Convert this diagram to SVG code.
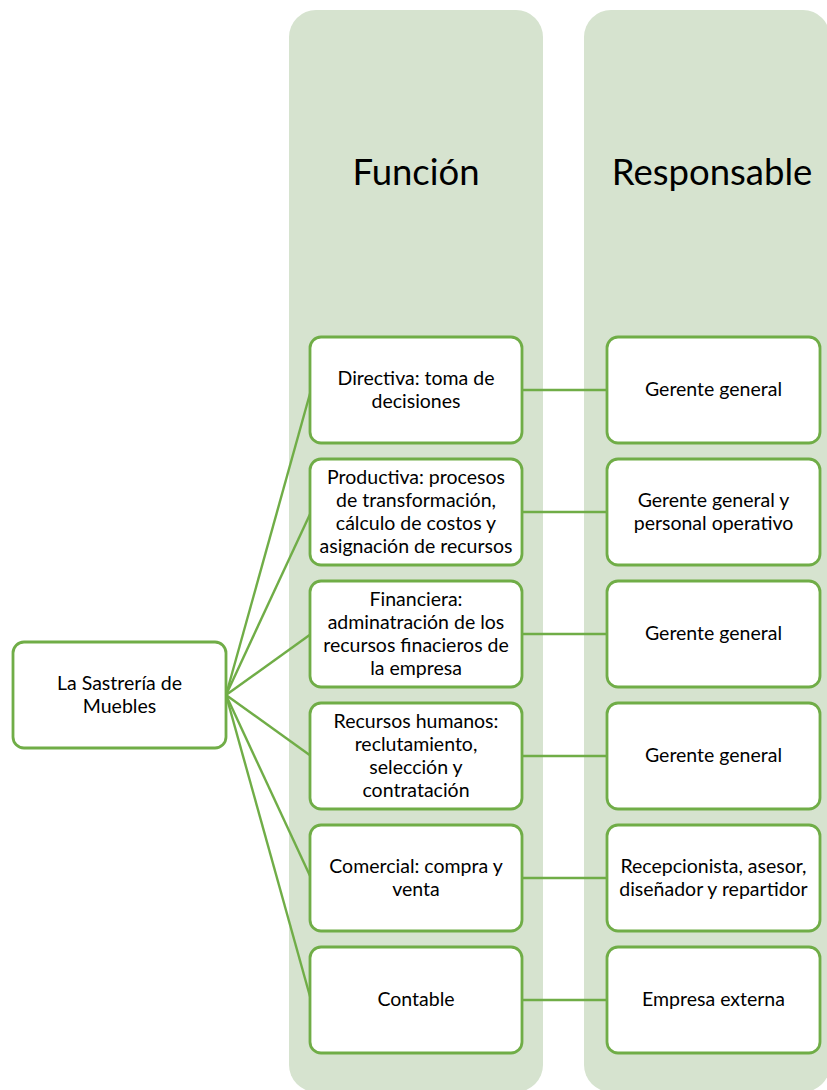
<svg xmlns="http://www.w3.org/2000/svg" width="827" height="1090" viewBox="0 0 827 1090">
  <style>
    .lane { fill: #d6e3cf; }
    .box { fill: #ffffff; stroke: #70ad47; stroke-width: 2.8; }
    .link { stroke: #70ad47; stroke-width: 2.4; fill: none; }
    .t { font-family: Lato, "Open Sans", "Liberation Sans", sans-serif; font-size: 19.5px; fill: #000000; text-anchor: middle; }
    .head { font-family: Lato, "Open Sans", "Liberation Sans", sans-serif; font-size: 36.5px; fill: #000000; text-anchor: middle; }
  </style>

  <!-- column backgrounds -->
  <g id="lanes">
    <rect class="lane" x="289" y="10" width="254" height="1082" rx="27"/>
    <rect class="lane" x="584" y="10" width="246" height="1082" rx="27"/>
    <text class="head" x="416" y="185">Función</text>
    <text class="head" x="712" y="185">Responsable</text>
  </g>

  <!-- connectors -->
  <g id="connectors">
    <line class="link" x1="226" y1="695" x2="311" y2="390"/>
    <line class="link" x1="226" y1="695" x2="311" y2="512"/>
    <line class="link" x1="226" y1="695" x2="311" y2="634"/>
    <line class="link" x1="226" y1="695" x2="311" y2="756"/>
    <line class="link" x1="226" y1="695" x2="311" y2="878"/>
    <line class="link" x1="226" y1="695" x2="311" y2="1000"/>
    <line class="link" x1="522" y1="390" x2="607" y2="390"/>
    <line class="link" x1="522" y1="512" x2="607" y2="512"/>
    <line class="link" x1="522" y1="634" x2="607" y2="634"/>
    <line class="link" x1="522" y1="756" x2="607" y2="756"/>
    <line class="link" x1="522" y1="878" x2="607" y2="878"/>
    <line class="link" x1="522" y1="1000" x2="607" y2="1000"/>
  </g>

  <!-- root -->
  <g id="root">
    <rect class="box" x="13" y="642" width="213" height="106" rx="11"/>
    <text class="t" x="119.5" y="689.5">La Sastrería de</text>
    <text class="t" x="119.5" y="712.5">Muebles</text>
  </g>

  <!-- functions -->
  <g id="f-directiva">
    <rect class="box" x="310" y="337" width="212" height="106" rx="11"/>
    <text class="t" x="416" y="384.5">Directiva: toma de</text>
    <text class="t" x="416" y="407.5">decisiones</text>
  </g>
  <g id="f-productiva">
    <rect class="box" x="310" y="459" width="212" height="106" rx="11"/>
    <text class="t" x="416" y="483.5">Productiva: procesos</text>
    <text class="t" x="416" y="506.5">de transformación,</text>
    <text class="t" x="416" y="529.5">cálculo de costos y</text>
    <text class="t" x="416" y="552.5">asignación de recursos</text>
  </g>
  <g id="f-financiera">
    <rect class="box" x="310" y="581" width="212" height="106" rx="11"/>
    <text class="t" x="416" y="605.5">Financiera:</text>
    <text class="t" x="416" y="628.5">adminatración de los</text>
    <text class="t" x="416" y="651.5">recursos finacieros de</text>
    <text class="t" x="416" y="674.5">la empresa</text>
  </g>
  <g id="f-rrhh">
    <rect class="box" x="310" y="703" width="212" height="106" rx="11"/>
    <text class="t" x="416" y="727.5">Recursos humanos:</text>
    <text class="t" x="416" y="750.5">reclutamiento,</text>
    <text class="t" x="416" y="773.5">selección y</text>
    <text class="t" x="416" y="796.5">contratación</text>
  </g>
  <g id="f-comercial">
    <rect class="box" x="310" y="825" width="212" height="106" rx="11"/>
    <text class="t" x="416" y="872.5">Comercial: compra y</text>
    <text class="t" x="416" y="895.5">venta</text>
  </g>
  <g id="f-contable">
    <rect class="box" x="310" y="947" width="212" height="106" rx="11"/>
    <text class="t" x="416" y="1006">Contable</text>
  </g>

  <!-- responsibles -->
  <g id="r-directiva">
    <rect class="box" x="607" y="337" width="213" height="106" rx="11"/>
    <text class="t" x="713.5" y="396">Gerente general</text>
  </g>
  <g id="r-productiva">
    <rect class="box" x="607" y="459" width="213" height="106" rx="11"/>
    <text class="t" x="713.5" y="506.5">Gerente general y</text>
    <text class="t" x="713.5" y="529.5">personal operativo</text>
  </g>
  <g id="r-financiera">
    <rect class="box" x="607" y="581" width="213" height="106" rx="11"/>
    <text class="t" x="713.5" y="640">Gerente general</text>
  </g>
  <g id="r-rrhh">
    <rect class="box" x="607" y="703" width="213" height="106" rx="11"/>
    <text class="t" x="713.5" y="762">Gerente general</text>
  </g>
  <g id="r-comercial">
    <rect class="box" x="607" y="825" width="213" height="106" rx="11"/>
    <text class="t" x="713.5" y="872.5">Recepcionista, asesor,</text>
    <text class="t" x="713.5" y="895.5">diseñador y repartidor</text>
  </g>
  <g id="r-contable">
    <rect class="box" x="607" y="947" width="213" height="106" rx="11"/>
    <text class="t" x="713.5" y="1006">Empresa externa</text>
  </g>
</svg>
